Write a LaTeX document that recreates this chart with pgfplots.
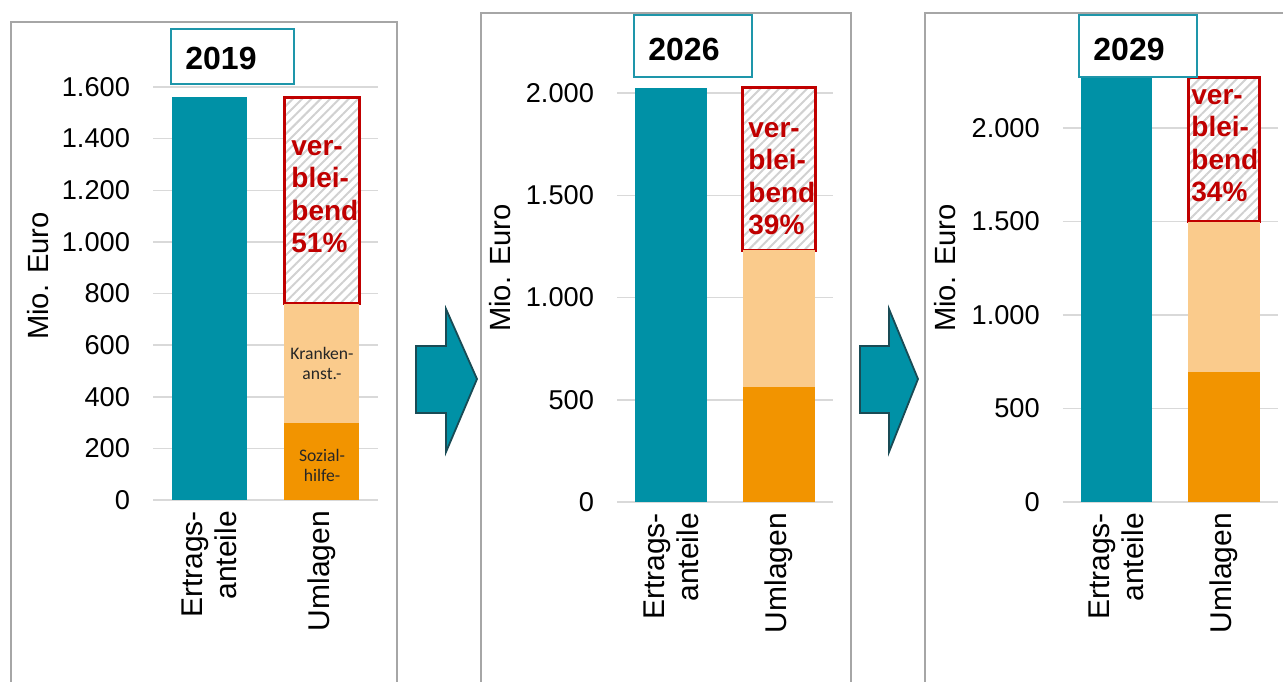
\documentclass[border=0pt]{standalone}
\usepackage{pgfplots}
\pgfplotsset{compat=1.18}
\usetikzlibrary{patterns.meta}
\usepackage{fontspec}
\setmainfont{Liberation Sans}
\newfontfamily\smallfont{Carlito}

\definecolor{cTeal}{RGB}{0,145,166}
\definecolor{cSoz}{RGB}{242,148,0}
\definecolor{cKra}{RGB}{250,203,140}
\definecolor{cRed}{RGB}{192,0,0}
\definecolor{cGrid}{RGB}{217,217,217}
\definecolor{cFrame}{RGB}{166,166,166}
\definecolor{cBox}{RGB}{30,150,170}
\definecolor{cArrow}{RGB}{25,75,85}

% 1 px of the reference = 0.5pt, origin top left
\pgfplotsset{
  panel/.style={
    scale only axis, anchor=south west,
    ybar stacked, bar width=0.667,
    xmin=0.5, xmax=2.5, ymin=0,
    axis line style={draw=none},
    major tick length=0pt,
    ymajorgrids, grid style={draw=cGrid, line width=0.75pt},
    xtick={1,2}, xticklabels={{Ertrags-\\anteile},{Umlagen}},
    xticklabel style={rotate=90, anchor=east, align=right,
      font=\fontsize{15}{17}\selectfont},
    xticklabel shift=2pt,
    yticklabel style={font=\fontsize{13.6}{15}\selectfont},
    yticklabel shift=8pt,
    /pgf/number format/1000 sep={.},
    /pgf/number format/assume math mode=true,
    scaled y ticks=false,
    clip=true,
  },
  rest/.style={draw=cRed, line width=1.5pt, preaction={fill=white},
    pattern={Lines[angle=45,distance=3.3pt,line width=1pt]}, pattern color=black!18},
}

\begin{document}
\begin{tikzpicture}[x=0.5pt, y=-0.5pt]
\useasboundingbox (0,0) rectangle (1283,681);
\clip (0,0) rectangle (1283,681);

% frames
\draw[cFrame, line width=0.75pt] (11,700) -- (11,22) -- (397,22) -- (397,700);
\draw[cFrame, line width=0.75pt] (481,700) -- (481,13) -- (851,13) -- (851,700);
\draw[cFrame, line width=0.75pt] (925,700) -- (925,13) -- (1300,13);

% 2019
\begin{axis}[panel, at={(76.5pt,-250pt)}, width=112.5pt, height=206.5pt,
  ymax=1600, ytick={0,200,...,1600}]
\addplot[fill=cSoz, draw=none] coordinates {(1,0) (2,300)};
\addplot[fill=cKra, draw=none] coordinates {(1,0) (2,460)};
\addplot[rest] coordinates {(1,0) (2,800)};
\addplot[fill=cTeal, draw=none] coordinates {(1,1560) (2,0)};
\end{axis}

% 2026
\begin{axis}[panel, at={(308.5pt,-251pt)}, width=108pt, height=209.5pt,
  ymax=2049, ytick={0,500,...,2000}]
\addplot[fill=cSoz, draw=none] coordinates {(1,0) (2,560)};
\addplot[fill=cKra, draw=none] coordinates {(1,0) (2,670)};
\addplot[rest] coordinates {(1,0) (2,795)};
\addplot[fill=cTeal, draw=none] coordinates {(1,2025) (2,0)};
\end{axis}

% 2029
\begin{axis}[panel, at={(531.375pt,-251pt)}, width=107.5pt, height=214.1pt,
  ymax=2290, ytick={0,500,...,2000}]
\addplot[fill=cSoz, draw=none] coordinates {(1,0) (2,695)};
\addplot[fill=cKra, draw=none] coordinates {(1,0) (2,805)};
\addplot[rest] coordinates {(1,0) (2,770)};
\addplot[fill=cTeal, draw=none] coordinates {(1,2270) (2,0)};
\end{axis}

% y labels
\foreach \xx/\yy in {38/276, 500/268, 945/268}
  \node[rotate=90, font=\fontsize{14.6}{16}\selectfont] at (\xx,\yy) {Mio. Euro};

% year boxes
\draw[cBox, fill=white, line width=0.75pt] (171,29) rectangle (294,84);
\node[anchor=base west, inner sep=0, font=\fontsize{16}{18}\selectfont\bfseries] at (185,69) {2019};
\draw[cBox, fill=white, line width=0.75pt] (634,15) rectangle (752,77);
\node[anchor=base west, inner sep=0, font=\fontsize{16}{18}\selectfont\bfseries] at (648,60) {2026};
\draw[cBox, fill=white, line width=0.75pt] (1079,15) rectangle (1197,77);
\node[anchor=base west, inner sep=0, font=\fontsize{16}{18}\selectfont\bfseries] at (1093,60) {2029};

% remaining share labels
\foreach \xx/\yy/\pc in {291/155/51, 748/137/39, 1191/104/34} {
  \node[anchor=base west, inner sep=0, text=cRed, font=\fontsize{14}{16}\selectfont\bfseries] at (\xx,\yy) {ver-};
  \node[anchor=base west, inner sep=0, text=cRed, font=\fontsize{14}{16}\selectfont\bfseries] at (\xx,\yy+32.5) {blei-};
  \node[anchor=base west, inner sep=0, text=cRed, font=\fontsize{14}{16}\selectfont\bfseries] at (\xx,\yy+65) {bend};
  \node[anchor=base west, inner sep=0, text=cRed, font=\fontsize{14}{16}\selectfont\bfseries] at (\xx,\yy+97.5) {\pc\%};
}

% segment labels 2019
\node[align=center, text=black!85, font=\smallfont\fontsize{8.8}{10}\selectfont] at (322,363) {Kranken-\\anst.-};
\node[align=center, text=black!85, font=\smallfont\fontsize{8.8}{10}\selectfont] at (322,465) {Sozial-\\hilfe-};

% arrows
\draw[fill=cTeal, draw=cArrow, line width=0.9pt] (416,346) -- (446,346) -- (446,309) -- (477,379) -- (446,452) -- (446,413) -- (416,413) -- cycle;
\draw[fill=cTeal, draw=cArrow, line width=0.9pt] (860,346) -- (889,346) -- (889,309) -- (918,379) -- (889,452) -- (889,413) -- (860,413) -- cycle;
\end{tikzpicture}
\end{document}
